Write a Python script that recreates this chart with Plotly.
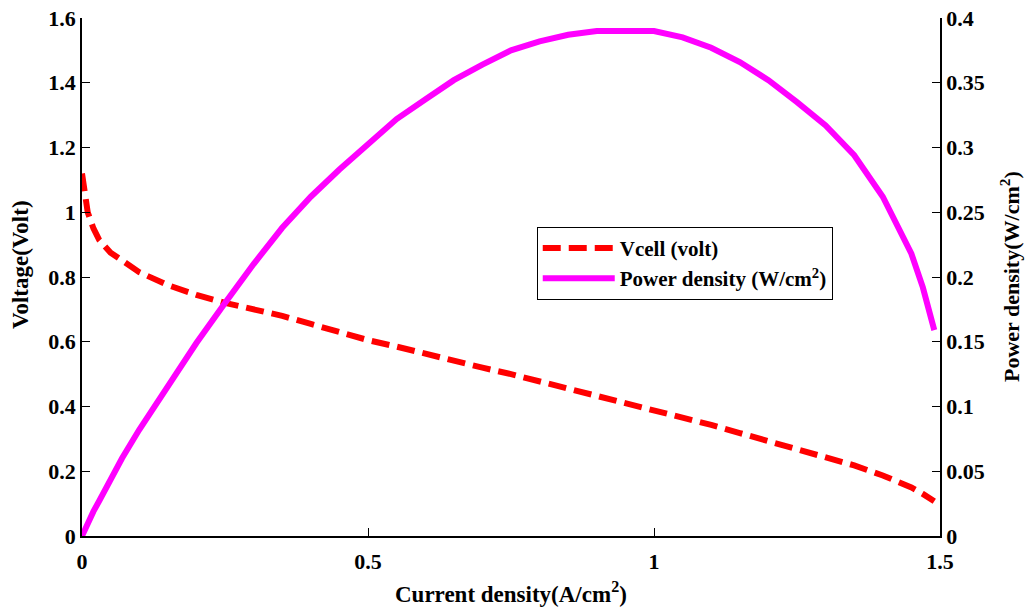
import plotly.graph_objects as go

# Current density (A/cm^2)
current = [0.0, 0.005, 0.01, 0.02, 0.03, 0.05, 0.07, 0.1, 0.15, 0.2, 0.25, 0.3, 0.35, 0.4,
           0.45, 0.5, 0.55, 0.6, 0.65, 0.7, 0.75, 0.8, 0.85, 0.9, 0.95, 1.0, 1.05, 1.1,
           1.15, 1.2, 1.25, 1.3, 1.35, 1.4, 1.45, 1.47, 1.49]
# Cell voltage (V)
vcell = [1.12, 1.05, 1.0, 0.95, 0.915, 0.875, 0.85, 0.815, 0.775, 0.745, 0.72, 0.7, 0.68, 0.655,
         0.63, 0.605, 0.585, 0.562, 0.542, 0.52, 0.5, 0.478, 0.455, 0.433, 0.41, 0.39, 0.366, 0.343,
         0.318, 0.293, 0.268, 0.244, 0.218, 0.187, 0.15, 0.13, 0.107]
# Power density (W/cm^2)
power = [0.0, 0.005, 0.01, 0.019, 0.027, 0.044, 0.06, 0.082, 0.116, 0.149, 0.18, 0.21, 0.238, 0.262,
         0.283, 0.302, 0.322, 0.337, 0.352, 0.364, 0.375, 0.382, 0.387, 0.39, 0.39, 0.39, 0.385, 0.377,
         0.366, 0.352, 0.335, 0.317, 0.294, 0.262, 0.218, 0.192, 0.159]

x_ticks = [0, 0.5, 1, 1.5]
x_ticktext = ["0", "0.5", "1", "1.5"]
y_ticks = [0, 0.2, 0.4, 0.6, 0.8, 1.0, 1.2, 1.4, 1.6]
y_ticktext = ["0", "0.2", "0.4", "0.6", "0.8", "1", "1.2", "1.4", "1.6"]
y2_ticks = [0, 0.05, 0.1, 0.15, 0.2, 0.25, 0.3, 0.35, 0.4]
y2_ticktext = ["0", "0.05", "0.1", "0.15", "0.2", "0.25", "0.3", "0.35", "0.4"]

x_title = "Current density(A/cm<sup>2</sup>)"
y_title = "Voltage(Volt)"
y2_title = "Power density(W/cm<sup>2</sup>)"

font_family = "Liberation Serif"


def f(size):
    return dict(family=font_family, size=size, color="black", weight="bold")


fig = go.Figure()
fig.add_trace(go.Scatter(
    x=current, y=vcell, mode="lines", name="Vcell (volt)",
    line=dict(color="#ff0000", width=6, dash="18px,8px"), yaxis="y"))
fig.add_trace(go.Scatter(
    x=current, y=power, mode="lines", name="Power density (W/cm<sup>2</sup>)",
    line=dict(color="#ff00ff", width=6), yaxis="y2"))

axis_common = dict(showline=True, linecolor="black", linewidth=1.5, ticks="inside",
                   ticklen=8, tickcolor="black", showgrid=False, zeroline=False,
                   automargin=False, tickfont=f(22))

fig.update_layout(
    width=1026, height=607,
    margin=dict(l=82, r=86, t=18, b=71),
    paper_bgcolor="white", plot_bgcolor="white",
    showlegend=True,
    legend=dict(x=0.53, y=0.597, xanchor="left", yanchor="top",
                bordercolor="black", borderwidth=1, bgcolor="white",
                font=f(21), itemwidth=72, tracegroupgap=2),
    xaxis=dict(range=[0, 1.5], tickvals=x_ticks, ticktext=x_ticktext,
               ticklabelstandoff=5, **axis_common),
    yaxis=dict(range=[0, 1.6], tickvals=y_ticks, ticktext=y_ticktext, **axis_common),
    yaxis2=dict(range=[0, 0.4], tickvals=y2_ticks, ticktext=y2_ticktext,
                overlaying="y", side="right", **axis_common),
    annotations=[
        dict(text=x_title, xref="paper", yref="paper", x=0.5, y=0, yshift=-56,
             xanchor="center", yanchor="middle", showarrow=False, font=f(23)),
        dict(text=y_title, xref="paper", yref="paper", x=0, y=0.523, xshift=-62,
             xanchor="center", yanchor="middle", textangle=-90, showarrow=False, font=f(23)),
        dict(text=y2_title, xref="paper", yref="paper", x=1, y=0.5, xshift=70,
             xanchor="center", yanchor="middle", textangle=-90, showarrow=False, font=f(22)),
    ],
)

fig.write_html("out.html", config={"displayModeBar": False},
               post_script="document.body.style.margin='0';document.body.style.padding='0';")
